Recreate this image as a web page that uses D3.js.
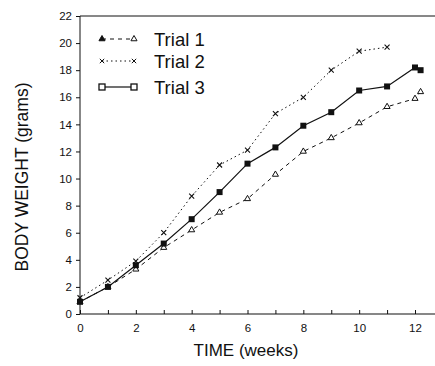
<!DOCTYPE html>
<html><head><meta charset="utf-8">
<script src="https://cdn.jsdelivr.net/npm/d3@7"></script>
<style>body{margin:0;background:#fff}svg{display:block}text{font-family:"Liberation Sans",Arial,sans-serif;fill:#111}</style>
</head><body><svg id="c" width="435" height="366"></svg>
<script>
const trial1Weeks = [0,1,2,3,4,5,6,7,8,9,10,11,12,12.2];
const trial1Values = [0.9,2.0,3.3,4.9,6.2,7.5,8.5,10.3,12.0,13.0,14.1,15.3,15.9,16.4];
const trial2Weeks = [0,1,2,3,4,5,6,7,8,9,10,11];
const trial2Values = [1.2,2.5,3.9,6.0,8.7,11.0,12.1,14.8,16.0,18.0,19.4,19.7];
const trial3Weeks = [0,1,2,3,4,5,6,7,8,9,10,11,12,12.2];
const trial3Values = [0.9,2.0,3.6,5.2,7.0,9.0,11.1,12.3,13.9,14.9,16.5,16.8,18.2,18.0];
const yTicks = [0,2,4,6,8,10,12,14,16,18,20,22];
const xTicks = [0,1,2,3,4,5,6,7,8,9,10,11,12];
const xLabels = [0,2,4,6,8,10,12];
const seriesNames = ["Trial 1","Trial 2","Trial 3"];

const svg = d3.select("#c");
const x = d3.scaleLinear().domain([0,12]).range([80,415]);
const y = d3.scaleLinear().domain([0,22]).range([314,16]);
const ink = "#111";

// axes
const yAxis = svg.append("g").attr("transform","translate(80,0)")
  .call(d3.axisLeft(y).tickValues(yTicks).tickSize(4).tickPadding(4).tickFormat(d3.format("d")));
yAxis.select(".domain").remove();
svg.append("line").attr("x1",80).attr("x2",80).attr("y1",y(22)).attr("y2",y(0)).attr("stroke",ink);
const xAxis = svg.append("g").attr("transform","translate(0,314)")
  .call(d3.axisBottom(x).tickValues(xTicks).tickSize(-4).tickPadding(10).tickFormat(d=> xLabels.includes(d)? d : ""));
xAxis.select(".domain").remove();
svg.append("line").attr("x1",80).attr("x2",435).attr("y1",314).attr("y2",314).attr("stroke",ink).attr("stroke-width",1.2);
svg.append("line").attr("x1",80).attr("x2",435).attr("y1",y(22)).attr("y2",y(22)).attr("stroke",ink);
svg.selectAll(".tick line").attr("stroke",ink);
svg.selectAll(".tick text").attr("font-size",11.5).attr("font-family","Liberation Sans, Arial, sans-serif").attr("fill",ink);

// titles
svg.append("text").attr("x",246).attr("y",356).attr("text-anchor","middle").attr("font-size",17).text("TIME (weeks)");
svg.append("text").attr("transform","translate(28,177) rotate(-90)").attr("text-anchor","middle").attr("font-size",17.5).text("BODY WEIGHT (grams)");

const line = d3.line().x(d=>x(d[0])).y(d=>y(d[1]));
const zip = (a,b)=>a.map((v,i)=>[v,b[i]]);
const d1 = zip(trial1Weeks,trial1Values), d2 = zip(trial2Weeks,trial2Values), d3d = zip(trial3Weeks,trial3Values);

svg.append("path").datum(d1).attr("d",line).attr("fill","none").attr("stroke",ink).attr("stroke-width",1).attr("stroke-dasharray","4,4");
svg.append("path").datum(d2).attr("d",line).attr("fill","none").attr("stroke",ink).attr("stroke-width",1).attr("stroke-dasharray","1.5,3");
svg.append("path").datum(d3d).attr("d",line).attr("fill","none").attr("stroke",ink).attr("stroke-width",1.2);

const tri = d3.symbol().type(d3.symbolTriangle).size(16);
function triMarks(data){
  svg.append("g").selectAll("path").data(data).join("path")
    .attr("d",tri).attr("transform",d=>`translate(${x(d[0])},${y(d[1])})`)
    .attr("fill","#fff").attr("stroke",ink).attr("stroke-width",1);
}
function xMarks(data){
  svg.append("g").selectAll("path").data(data).join("path")
    .attr("d",d=>{const cx=x(d[0]),cy=y(d[1]),r=2.5;return `M${cx-r},${cy-r}L${cx+r},${cy+r}M${cx-r},${cy+r}L${cx+r},${cy-r}`;})
    .attr("stroke",ink).attr("stroke-width",1.1);
}
function sqMarks(data){
  svg.append("g").selectAll("rect").data(data).join("rect")
    .attr("x",d=>x(d[0])-3).attr("y",d=>y(d[1])-3).attr("width",6).attr("height",6)
    .attr("fill",ink);
}
triMarks(d1); xMarks(d2); sqMarks(d3d);

// legend
const legY = [39,61,87];
const lx1 = 102, lx2 = 134;
svg.append("line").attr("x1",lx1).attr("x2",lx2).attr("y1",legY[0]).attr("y2",legY[0]).attr("stroke",ink).attr("stroke-dasharray","4,4");
svg.append("line").attr("x1",lx1).attr("x2",lx2).attr("y1",legY[1]).attr("y2",legY[1]).attr("stroke",ink).attr("stroke-dasharray","1.5,3");
svg.append("line").attr("x1",lx1).attr("x2",lx2).attr("y1",legY[2]).attr("y2",legY[2]).attr("stroke",ink).attr("stroke-width",1.2);
[lx1,lx2].forEach(px=>{
  svg.append("path").attr("d",tri).attr("transform",`translate(${px},${legY[0]})`).attr("fill",px===lx1?ink:"#fff").attr("stroke",ink);
  const r=2.2;
  svg.append("path").attr("d",`M${px-r},${legY[1]-r}L${px+r},${legY[1]+r}M${px-r},${legY[1]+r}L${px+r},${legY[1]-r}`).attr("stroke",ink);
  svg.append("rect").attr("x",px-3).attr("y",legY[2]-3).attr("width",6).attr("height",6).attr("fill","#fff").attr("stroke",ink).attr("stroke-width",1.3);
});
seriesNames.forEach((n,i)=>{
  svg.append("text").attr("x",154).attr("y",legY[i]+6.5).attr("font-size",18.5).text(n);
});
</script></body></html>
